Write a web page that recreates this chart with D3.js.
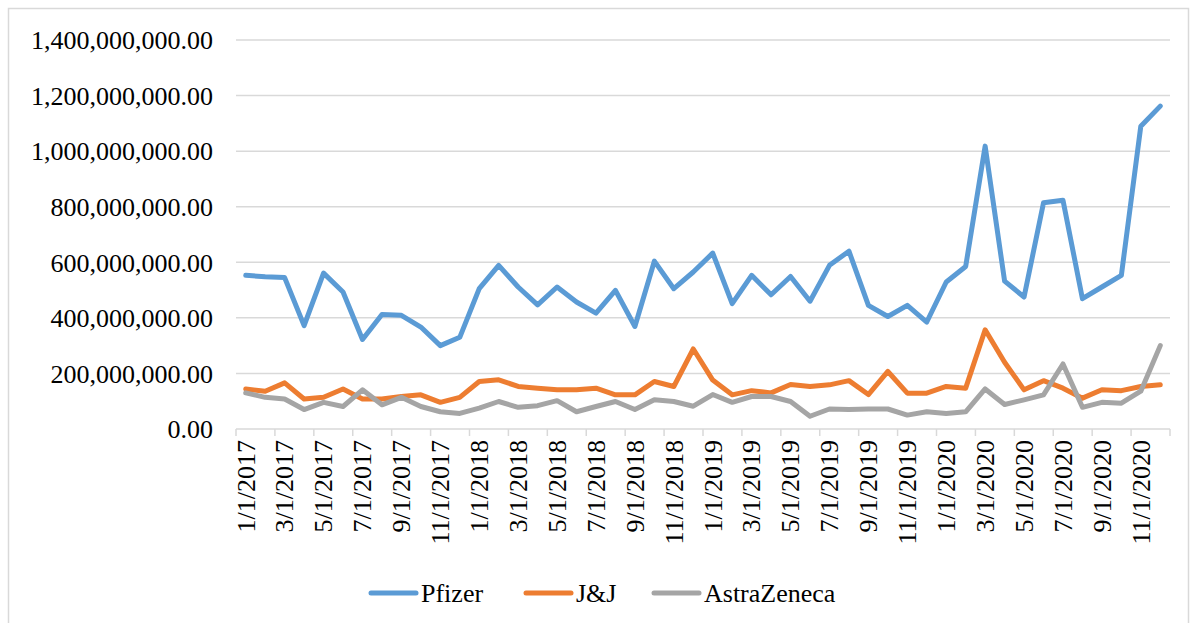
<!DOCTYPE html>
<html>
<head>
<meta charset="utf-8">
<script src="https://cdn.jsdelivr.net/npm/d3@7"></script>
<style>
  html, body { margin: 0; padding: 0; background: #fff; }
  svg { display: block; }
  svg text, svg g text { font-family: "Liberation Serif", "Times New Roman" !important; }
</style>
</head>
<body>
<svg id="chart" width="1192" height="623"></svg>
<script>
// Categories (monthly)
const months = [
  "1/1/2017","2/1/2017","3/1/2017","4/1/2017","5/1/2017","6/1/2017","7/1/2017","8/1/2017","9/1/2017","10/1/2017","11/1/2017","12/1/2017",
  "1/1/2018","2/1/2018","3/1/2018","4/1/2018","5/1/2018","6/1/2018","7/1/2018","8/1/2018","9/1/2018","10/1/2018","11/1/2018","12/1/2018",
  "1/1/2019","2/1/2019","3/1/2019","4/1/2019","5/1/2019","6/1/2019","7/1/2019","8/1/2019","9/1/2019","10/1/2019","11/1/2019","12/1/2019",
  "1/1/2020","2/1/2020","3/1/2020","4/1/2020","5/1/2020","6/1/2020","7/1/2020","8/1/2020","9/1/2020","10/1/2020","11/1/2020","12/1/2020"
];

// Series values, in millions
const pfizer = [
  553, 548, 545, 372, 561, 493, 322, 412, 409, 367, 300, 330,
  505, 589, 511, 447, 511, 457, 417, 499, 369, 604, 505, 565,
  633, 451, 553, 483, 549, 460, 589, 640, 445, 405, 445, 385,
  529, 585, 1018, 532, 475, 814, 823, 469, 511, 553, 1090, 1162
];
const jnj = [
  144, 136, 166, 108, 114, 144, 108, 108, 117, 123, 96, 114,
  171, 177, 153, 147, 141, 141, 147, 123, 123, 171, 153, 288,
  176, 123, 138, 130, 160, 153, 159, 174, 124, 207, 129, 129,
  153, 147, 357, 240, 141, 174, 147, 111, 141, 138, 153, 159
];
const astra = [
  130, 114, 108, 70, 96, 81, 141, 87, 114, 81, 62, 56,
  75, 99, 78, 84, 102, 62, 81, 99, 70, 105, 99, 82,
  124, 96, 117, 117, 99, 46, 72, 70, 72, 72, 50, 62,
  56, 62, 144, 88, 105, 123, 234, 78, 96, 93, 136, 300
];

const seriesNames = ["Pfizer", "J&J", "AstraZeneca"];
const seriesColors = ["#5B9BD5", "#ED7D31", "#A5A5A5"];
const yTicks = [0, 200, 400, 600, 800, 1000, 1200, 1400];
const unit = 1e6;

const series = [pfizer, jnj, astra];
const FONT = '"Liberation Serif"';

const svg = d3.select("#chart")
  .attr("font-family", "Liberation Serif");

// outer border
svg.append("rect")
  .attr("x", 8.5).attr("y", 8.5)
  .attr("width", 1180).attr("height", 630)
  .attr("fill", "none").attr("stroke", "#d9d9d9").attr("stroke-width", 1.5);

const plotLeft = 236, plotRight = 1170, plotTop = 40, plotBottom = 429;

const x = d3.scaleBand().domain(months).range([plotLeft, plotRight]).padding(0);
const y = d3.scaleLinear().domain([0, 1400]).range([plotBottom, plotTop]);

// gridlines
svg.append("g")
  .selectAll("line")
  .data(yTicks.filter(d => d > 0))
  .join("line")
  .attr("x1", plotLeft).attr("x2", plotRight)
  .attr("y1", d => y(d)).attr("y2", d => y(d))
  .attr("stroke", "#d9d9d9").attr("stroke-width", 1.5);

// y axis labels
const yAxis = d3.axisLeft(y)
  .tickValues(yTicks)
  .tickSize(0)
  .tickPadding(0)
  .tickFormat(d => d3.format(",.2f")(d * unit));
const yg = svg.append("g").attr("transform", `translate(213,0)`).call(yAxis);
yg.attr("font-family", "Liberation Serif").attr("font-size", 26);
yg.select(".domain").remove();
yg.selectAll("text")
  .attr("font-family", "Liberation Serif")
  .style("font-family", FONT)
  .style("font-size", "26px")
  .attr("fill", "#000")
  .attr("dy", "0.34em");

// x axis line + tick marks
svg.append("line")
  .attr("x1", plotLeft).attr("x2", plotRight)
  .attr("y1", plotBottom).attr("y2", plotBottom)
  .attr("stroke", "#d9d9d9").attr("stroke-width", 1.5);

const tickPos = months.filter((m, i) => i % 2 === 0).map(m => x(m)).concat([plotRight]);
svg.append("g")
  .selectAll("line")
  .data(tickPos)
  .join("line")
  .attr("x1", d => d).attr("x2", d => d)
  .attr("y1", plotBottom).attr("y2", plotBottom + 7)
  .attr("stroke", "#d9d9d9").attr("stroke-width", 1.5);

// x labels
const xAxis = d3.axisBottom(x)
  .tickValues(months.filter((m, i) => i % 2 === 0))
  .tickSize(0)
  .tickPadding(0);
const xg = svg.append("g").attr("transform", `translate(0,${plotBottom})`).call(xAxis);
xg.attr("font-family", "Liberation Serif").attr("font-size", 26);
xg.select(".domain").remove();
xg.selectAll("text")
  .attr("font-family", "Liberation Serif")
  .style("font-family", FONT)
  .style("font-size", "26px")
  .attr("fill", "#000")
  .attr("text-anchor", "end")
  .attr("transform", "rotate(-90)")
  .attr("x", -11)
  .attr("y", 0)
  .attr("dy", "0.34em");

// lines
const line = d3.line()
  .x((d, i) => x(months[i]) + x.bandwidth() / 2)
  .y(d => y(d));

svg.append("g")
  .selectAll("path")
  .data(series)
  .join("path")
  .attr("d", d => line(d))
  .attr("fill", "none")
  .attr("stroke", (d, i) => seriesColors[i])
  .attr("stroke-width", 5)
  .attr("stroke-linejoin", "round")
  .attr("stroke-linecap", "round");

// legend
const legendX = [371, 526, 654];
const lg = svg.append("g");
seriesNames.forEach((name, i) => {
  lg.append("line")
    .attr("x1", legendX[i]).attr("x2", legendX[i] + 45)
    .attr("y1", 593).attr("y2", 593)
    .attr("stroke", seriesColors[i]).attr("stroke-width", 5)
    .attr("stroke-linecap", "round");
  lg.append("text")
    .attr("x", legendX[i] + 50)
    .attr("y", 593)
    .attr("dy", "0.34em")
    .attr("font-family", "Liberation Serif")
    .style("font-family", FONT)
    .style("font-size", "26px")
    .attr("fill", "#000")
    .text(name);
});
</script>
</body>
</html>
